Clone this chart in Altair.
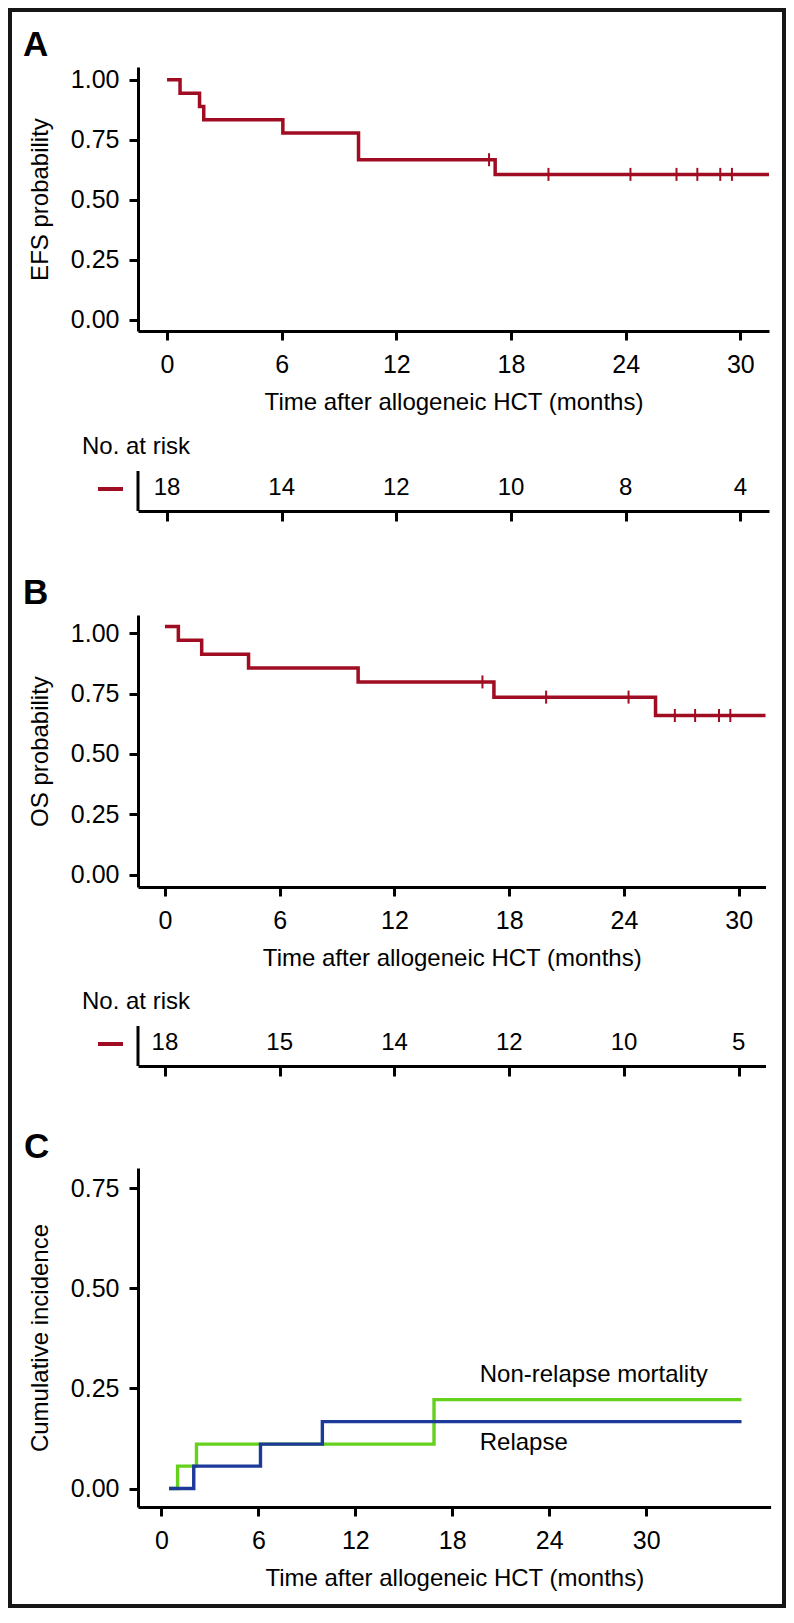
import altair as alt
import pandas as pd

# ---------------- data ----------------
# Panel A: event-free survival
efs_time = [0, 0.68, 1.70, 1.92, 6.06, 10.02, 17.17, 31.5]
efs_surv = [1.0, 0.944, 0.889, 0.833, 0.778, 0.667, 0.606, 0.606]
efs_cens_time = [16.85, 19.96, 24.25, 26.66, 27.75, 28.95, 29.56]
efs_cens_surv = [0.667, 0.606, 0.606, 0.606, 0.606, 0.606, 0.606]
efs_risk_time = [0, 6, 12, 18, 24, 30]
efs_risk_n = [18, 14, 12, 10, 8, 4]

# Panel B: overall survival
os_time = [0, 0.70, 1.92, 4.37, 10.10, 17.2, 25.65, 31.4]
os_surv = [1.027, 0.970, 0.913, 0.856, 0.798, 0.735, 0.659, 0.659]
os_cens_time = [16.6, 19.93, 24.24, 26.66, 27.72, 28.97, 29.56]
os_cens_surv = [0.798, 0.735, 0.735, 0.659, 0.659, 0.659, 0.659]
os_risk_time = [0, 6, 12, 18, 24, 30]
os_risk_n = [18, 15, 14, 12, 10, 5]

# Panel C: cumulative incidence
nrm_time = [0.47, 1.0, 2.17, 16.87, 35.9]
nrm_val = [0.0, 0.056, 0.111, 0.222, 0.222]
rel_time = [0.47, 2.0, 6.13, 9.96, 35.9]
rel_val = [0.0, 0.056, 0.111, 0.167, 0.167]
c_labels = ["Non-relapse mortality", "Relapse"]
c_label_time = [19.7, 19.7]
c_label_val = [0.283, 0.113]

x_ticks = [0, 6, 12, 18, 24, 30]
x_title = "Time after allogeneic HCT (months)"

# ---------------- styling ----------------
RED = "#a00c22"
GREEN = "#66d11c"
BLUE = "#1d3a9a"
FRAME = "#161616"
LABEL_FONT = "Liberation Sans"
TITLE_FONT = "Liberation Sans"
LEFT = -130   # outer frame edge, relative to plot area
RIGHT = 648
BW = 4        # frame thickness

one = pd.DataFrame({"k": [0]})


def frect(x1, x2, y1, y2):
    return alt.Chart(one).mark_rect(color=FRAME, strokeWidth=0).encode(
        x=alt.value(x1), x2=alt.value(x2), y=alt.value(y1), y2=alt.value(y2)
    )


def frame(top, bottom, top_line=False, bottom_line=False):
    layers = [frect(LEFT, LEFT + BW, top, bottom), frect(RIGHT - BW, RIGHT, top, bottom)]
    if top_line:
        layers.append(frect(LEFT, RIGHT, top, top + BW))
    if bottom_line:
        layers.append(frect(LEFT, RIGHT, bottom - BW, bottom))
    return layers


def letter(txt, dx, dy):
    return alt.Chart(one).mark_text(
        text=txt, font="Liberation Sans", fontWeight="bold", fontSize=35,
        align="left", baseline="alphabetic", color="black"
    ).encode(x=alt.value(dx), y=alt.value(dy))


def x_axis(show_labels=True):
    if show_labels:
        return alt.Axis(values=x_ticks, title=x_title, labelPadding=12, titlePadding=13)
    return alt.Axis(values=x_ticks, title=None, labels=False, tickSize=10)


def y_axis(values, title):
    return alt.Axis(values=values, format=".2f", title=title, labelPadding=10, titlePadding=18)


def km_panel(times, surv, ctimes, csurv, xdom, ydom, width, height, ytitle, let, top, bottom, first=False):
    xs = alt.Scale(domain=xdom, nice=False, zero=False)
    ys = alt.Scale(domain=ydom, nice=False, zero=False)
    curve = pd.DataFrame({"t": times, "s": surv})
    cens = pd.DataFrame({"t": ctimes, "s": csurv})
    line = alt.Chart(curve).mark_line(interpolate="step-after", strokeWidth=3.5, color=RED).encode(
        x=alt.X("t:Q", scale=xs, axis=x_axis()),
        y=alt.Y("s:Q", scale=ys, axis=y_axis([0, 0.25, 0.5, 0.75, 1.0], ytitle)),
    )
    ticks = alt.Chart(cens).mark_tick(orient="vertical", size=13, thickness=2, color=RED, opacity=1).encode(
        x=alt.X("t:Q", scale=xs), y=alt.Y("s:Q", scale=ys)
    )
    layers = frame(top, bottom, top_line=first) + [line, ticks, letter(let, -115, -11)]
    return alt.layer(*layers).properties(width=width, height=height)


def risk_panel(rtimes, rn, xdom, width, top, bottom):
    xs = alt.Scale(domain=xdom, nice=False, zero=False)
    df = pd.DataFrame({"t": rtimes, "n": rn})
    txt = alt.Chart(df).mark_text(font=LABEL_FONT, fontSize=24, align="center", baseline="middle",
                                  color="black").encode(
        x=alt.X("t:Q", scale=xs, axis=x_axis(False)),
        y=alt.value(17),
        text=alt.Text("n:Q"),
    )
    vline = alt.Chart(one).mark_rule(strokeWidth=3, color="black").encode(
        x=alt.value(0), y=alt.value(0), y2=alt.value(40)
    )
    dash = alt.Chart(one).mark_rule(strokeWidth=4, color=RED).encode(
        x=alt.value(-40), x2=alt.value(-15), y=alt.value(18)
    )
    head = alt.Chart(one).mark_text(text="No. at risk", font=LABEL_FONT, fontSize=24, align="left",
                                    baseline="middle", color="black").encode(
        x=alt.value(-56), y=alt.value(-24)
    )
    layers = frame(top, bottom) + [vline, dash, head, txt]
    return alt.layer(*layers).properties(width=width, height=40)


# Panel A
pA = km_panel(efs_time, efs_surv, efs_cens_time, efs_cens_surv, [-1.52, 31.5], [-0.046, 1.053],
              631, 264, "EFS probability", "A", -59, 363, first=True)
rA = risk_panel(efs_risk_time, efs_risk_n, [-1.52, 31.5], 631, -41, 79)

# Panel B
pB = km_panel(os_time, os_surv, os_cens_time, os_cens_surv, [-1.41, 31.4], [-0.051, 1.075],
              627.5, 272, "OS probability", "B", -65, 369)
rB = risk_panel(os_risk_time, os_risk_n, [-1.41, 31.4], 627.5, -42, 74)

# Panel C
xsC = alt.Scale(domain=[-1.45, 37.7], nice=False, zero=False)
ysC = alt.Scale(domain=[-0.046, 0.8], nice=False, zero=False)
nrm_df = pd.DataFrame({"t": nrm_time, "v": nrm_val})
rel_df = pd.DataFrame({"t": rel_time, "v": rel_val})
lab_df = pd.DataFrame({"t": c_label_time, "v": c_label_val, "label": c_labels})
nrm_line = alt.Chart(nrm_df).mark_line(interpolate="step-after", strokeWidth=3.4, color=GREEN).encode(
    x=alt.X("t:Q", scale=xsC, axis=x_axis()),
    y=alt.Y("v:Q", scale=ysC, axis=y_axis([0, 0.25, 0.5, 0.75], "Cumulative incidence")),
)
rel_line = alt.Chart(rel_df).mark_line(interpolate="step-after", strokeWidth=3.4, color=BLUE).encode(
    x=alt.X("t:Q", scale=xsC), y=alt.Y("v:Q", scale=ysC)
)
labs = alt.Chart(lab_df).mark_text(font=LABEL_FONT, fontSize=24, align="left", baseline="middle",
                                   color="black").encode(
    x=alt.X("t:Q", scale=xsC), y=alt.Y("v:Q", scale=ysC), text="label:N"
)
pC = alt.layer(*(frame(-68, 440, bottom_line=True) + [nrm_line, rel_line, labs, letter("C", -114, -10)])
               ).properties(width=632.6, height=339)

chart = alt.vconcat(pA, rA, pB, rB, pC, spacing=0).properties(padding=0).configure_view(
    stroke=None
).configure_axis(
    grid=False,
    domainColor="black", domainWidth=3,
    tickColor="black", tickWidth=3, tickSize=9,
    labelFont=LABEL_FONT, labelFontSize=25, labelColor="black",
    titleFont=TITLE_FONT, titleFontSize=24, titleFontWeight="normal", titleColor="black",
)

chart.save("out.html", embed_options={"renderer": "svg", "actions": False})
